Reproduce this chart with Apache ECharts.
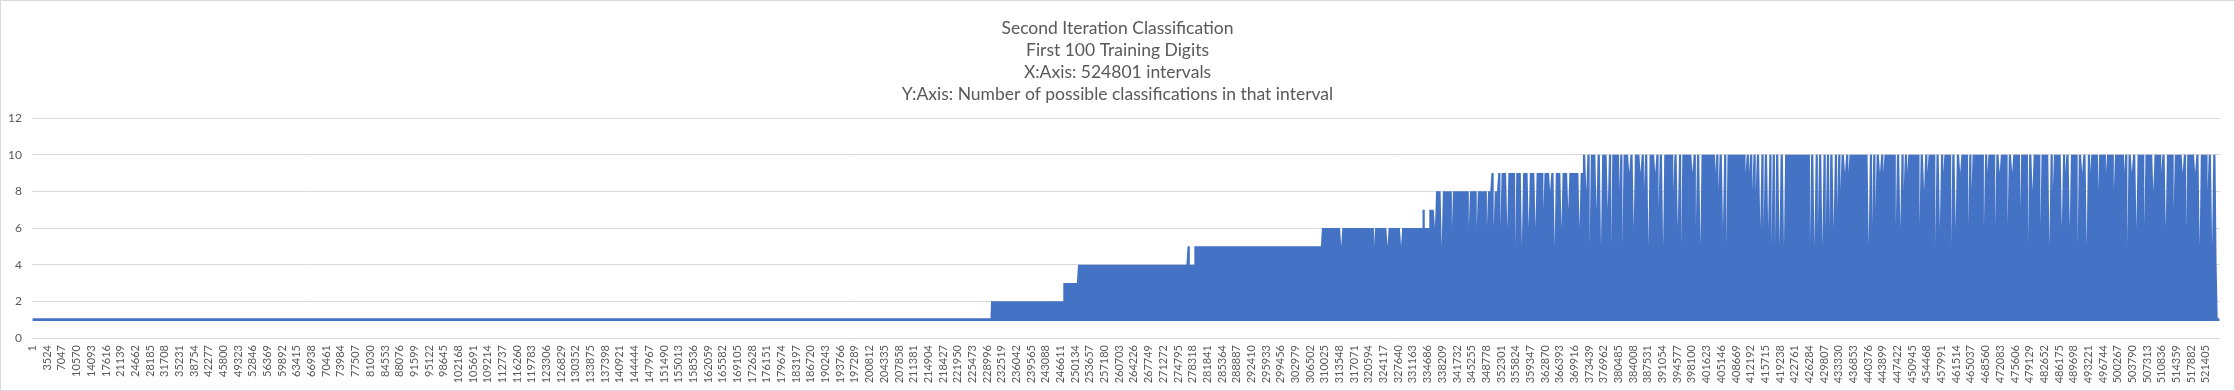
<!DOCTYPE html>
<html>
<head>
<meta charset="utf-8">
<script src="https://cdn.jsdelivr.net/npm/echarts@6/dist/echarts.min.js"></script>
<style>
  html, body { margin: 0; padding: 0; background: #ffffff; }
  #chart { position: absolute; left: 0; top: 0; width: 2235px; height: 391px; }
  #frame { position: absolute; left: 0; top: 0; width: 2235px; height: 391px; box-sizing: border-box; border: 1px solid #d9d9d9; pointer-events: none; }
</style>
</head>
<body>
<div id="chart"></div>
<div id="frame"></div>
<script>
// ---- data ----
const titleLines = [
  "Second Iteration Classification",
  "First 100 Training Digits",
  "X:Axis: 524801 intervals",
  "Y:Axis: Number of possible classifications in that interval"
];
const TOTAL_INTERVALS = 524801;   // number of intervals on the x axis
const LABEL_STEP = 3523;          // distance between shown x tick labels (1, 3524, 7047, ...)
const BIN = 271;                  // intervals per drawn column (3523 = 13 * 271)

// upper envelope: [first interval index, number of classifications]
const levelSteps = [
  [0, 1], [230193, 2], [247414, 3], [250849, 4], [277125, 5], [277677, 4],
  [278806, 5], [309452, 6], [333470, 7], [334119, 6], [335152, 7], [336521, 6],
  [336833, 8], [350043, 9], [350692, 8], [351725, 9], [372068, 10],
  [524180, 4], [524520, 1]
];

// narrow intervals where the count drops below the envelope: [interval index, value]
const dips = [
  [314112,5],[322038,5],[325305,5],[328597,5],
  [338323,5],[340845,6],[344928,6],[346681,6],[349083,6],[350860,6],
  [352542,6],[354127,6],[355904,5],[357489,5],[359266,6],[360947,6],[362700,7],[364309,8],
  [365342,5],[366951,6],[368705,7],[371273,6],
  [372957,8],[373918,5],[375503,7],[376560,5],[378145,7],[379105,5],[380883,8],[381676,5],
  [383357,9],[384317,6],[385998,9],[386887,8],[387920,5],[389529,9],[390394,7],[391354,5],
  [393996,8],[394885,6],[395774,5],[398488,9],[399376,6],[400337,5],[403844,9],[404732,8],
  [405693,6],[406581,5],[411144,9],[411937,9],[412898,8],[413786,8],[414747,6],[415612,6],
  [416573,6],[417533,5],[418422,5],[419383,5],[420344,5],[426756,5],[427717,5],[428582,6],
  [429542,5],[430431,6],[431392,6],[432280,6],[433241,7],[434106,8],[434994,9],[435883,9],
  [440759,5],[441648,6],[442512,7],[443473,9],[444362,9],[447412,6],[448277,6],[449166,8],
  [450127,9],[453009,6],[453970,8],[454931,9],[456780,5],[457741,6],[458701,9],[460695,5],
  [461656,6],[462617,9],[464538,6],[465427,8],[468381,6],[469342,9],[471263,6],[472223,9],
  [474217,6],[475178,9],[477195,7],[479117,5],[480078,8],[482071,6],[484065,5],[485025,8],
  [487043,6],[488004,9],[489036,6],[490957,5],[491990,9],[492951,5],[494008,9],[495801,8],
  [497651,9],[499643,8],[501933,9],[502966,5],[503927,9],[504960,6],[506977,6],[508971,8],
  [510964,9],[512021,6],[514014,7],[516008,9],[517065,6],[519058,9],[520187,5],[522112,8],
  [523217,5]
];
const BASE_VALUE = 1;   // every interval has at least one classification
const yTicks = { min: 0, max: 12, step: 2 };

// ---- build the per-column table from the arrays above ----
const nBins = Math.ceil(TOTAL_INTERVALS / BIN);
const categories = [];
const topValues = [];
for (let b = 0; b < nBins; b++) {
  categories.push(String(1 + b * BIN));
  const mid = b * BIN + BIN / 2;
  let v = levelSteps[0][1];
  for (const s of levelSteps) { if (s[0] <= mid) v = s[1]; }
  topValues.push(v);
}
for (const d of dips) {
  const b = Math.floor(d[0] / BIN);
  if (b < nBins) topValues[b] = Math.min(topValues[b], d[1]);
}
const baseData = categories.map(() => BASE_VALUE);
const extraData = topValues.map(v => v - BASE_VALUE);
const labelEvery = LABEL_STEP / BIN; // 13 columns between labels

const chart = echarts.init(document.getElementById('chart'), null, { renderer: 'canvas' });
const FONT = 'Lato, "Liberation Sans", sans-serif';
chart.setOption({
  animation: false,
  backgroundColor: '#ffffff',
  title: {
    text: titleLines.join('\n'),
    left: 'center',
    top: 12,
    textStyle: { fontFamily: FONT, fontSize: 17.5, fontWeight: 'normal', color: '#595959', lineHeight: 22 }
  },
  grid: { left: 32, right: 15, top: 118, bottom: 53, containLabel: false },
  xAxis: {
    type: 'category',
    data: categories,
    boundaryGap: true,
    axisTick: { show: false },
    axisLine: { show: true, lineStyle: { color: '#d9d9d9', width: 1 } },
    axisLabel: {
      interval: labelEvery - 1,
      rotate: 90,
      margin: 7,
      fontFamily: FONT,
      fontSize: 11,
      color: '#595959'
    },
    splitLine: { show: false }
  },
  yAxis: {
    type: 'value',
    min: yTicks.min,
    max: yTicks.max,
    interval: yTicks.step,
    axisLine: { show: false },
    axisTick: { show: false },
    axisLabel: { fontFamily: FONT, fontSize: 12, color: '#595959', margin: 10 },
    splitLine: { lineStyle: { color: '#d9d9d9', width: 1 } }
  },
  series: [
    {
      name: 'base',
      type: 'line',
      stack: 'total',
      data: baseData,
      symbol: 'none',
      z: 4,
      lineStyle: { color: '#4472C4', width: 2.6 },
      silent: true
    },
    {
      name: 'classifications',
      type: 'line',
      stack: 'total',
      step: 'middle',
      data: extraData,
      symbol: 'none',
      z: 3,
      lineStyle: { width: 0, opacity: 0 },
      areaStyle: { color: '#4472C4', opacity: 1 },
      silent: true
    }
  ]
});
</script>
</body>
</html>
